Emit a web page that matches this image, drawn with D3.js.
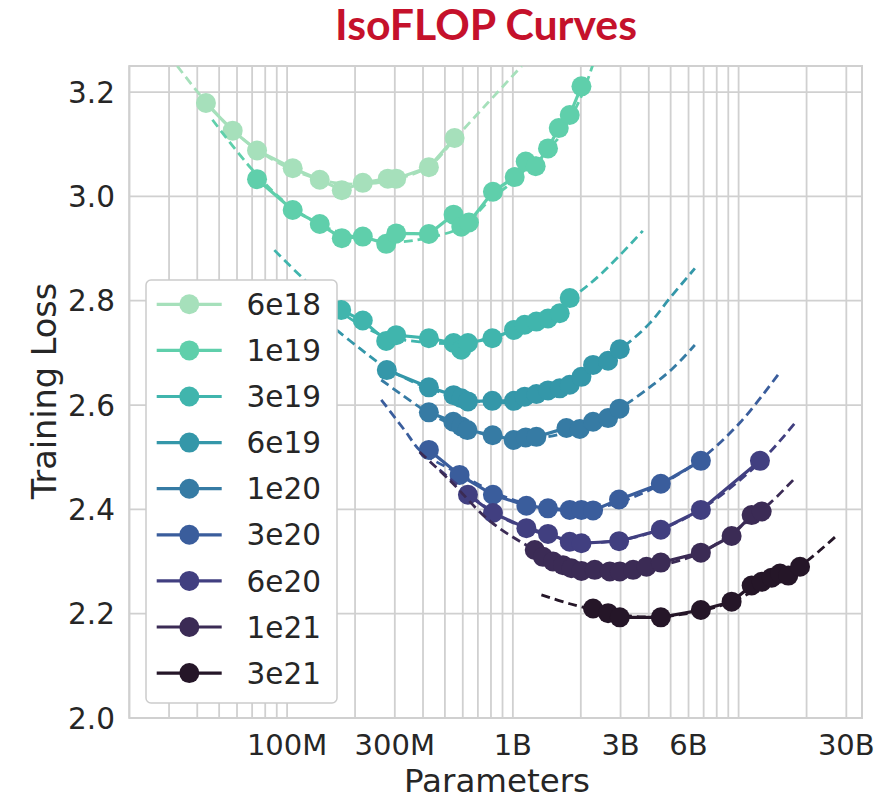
<!DOCTYPE html>
<html><head><meta charset="utf-8">
<script src="https://cdn.jsdelivr.net/npm/d3@7"></script>
<style>body{margin:0;background:#fff}</style>
</head><body>
<svg id="chart" width="889" height="801"></svg>
<script>
// ---------- DATA ----------
const budgets = ["6e18","1e19","3e19","6e19","1e20","3e20","6e20","1e21","3e21"];
const palette = ["#a6e0bb","#5fcfab","#40b5ad","#3497a9","#367ba4","#3a5d9c","#413f80","#3b2b55","#251628"];
const xTickValues = [1e8, 3e8, 1e9, 3e9, 6e9, 3e10];
const xTickLabels = ["100M","300M","1B","3B","6B","30B"];
const yTickValues = [2.0, 2.2, 2.4, 2.6, 2.8, 3.0, 3.2];
const yTickLabels = ["2.0","2.2","2.4","2.6","2.8","3.0","3.2"];

// measured runs: [parameters, training loss]
const s6e18 = [[43.7e6,3.179],[57.4e6,3.126],[73.6e6,3.088],[105.9e6,3.054],[139.5e6,3.032],[174.7e6,3.012],[216.4e6,3.026],[279.3e6,3.034],[304.3e6,3.034],[424.6e6,3.056],[552e6,3.112]];
const s1e19 = [[73.6e6,3.033],[105.9e6,2.974],[139.5e6,2.947],[174.7e6,2.920],[216.4e6,2.923],[274.8e6,2.909],[304.3e6,2.929],[424.6e6,2.928],[546.4e6,2.965],[590.9e6,2.942],[638.9e6,2.950],[816.3e6,3.009],[1019e6,3.037],[1140e6,3.067],[1262e6,3.058],[1431e6,3.092],[1597e6,3.131],[1786e6,3.156],[2013e6,3.211]];
const s3e19 = [[173.6e6,2.782],[216.4e6,2.762],[274.8e6,2.723],[304.3e6,2.734],[424.6e6,2.728],[546.4e6,2.719],[590.9e6,2.706],[632.4e6,2.719],[811.2e6,2.728],[1011e6,2.744],[1128e6,2.754],[1271e6,2.760],[1431e6,2.766],[1613e6,2.776],[1786e6,2.805]];
const s6e19 = [[276.5e6,2.667],[424.6e6,2.634],[546.4e6,2.619],[590.9e6,2.613],[632.4e6,2.607],[811.2e6,2.608],[1011e6,2.608],[1128e6,2.616],[1271e6,2.621],[1431e6,2.628],[1613e6,2.632],[1786e6,2.639],[2013e6,2.654],[2266e6,2.677],[2641e6,2.685],[2976e6,2.707]];
const s1e20 = [[424.6e6,2.586],[544.6e6,2.568],[590.9e6,2.559],[629.1e6,2.552],[813.7e6,2.542],[1008e6,2.533],[1140e6,2.538],[1271e6,2.539],[1727e6,2.556],[1978e6,2.554],[2266e6,2.568],[2641e6,2.575],[2967e6,2.593]];
const s3e20 = [[424.6e6,2.514],[580.8e6,2.466],[816.3e6,2.428],[1148e6,2.407],[1431e6,2.402],[1786e6,2.399],[2013e6,2.399],[2266e6,2.398],[2954e6,2.419],[4523e6,2.449],[6805e6,2.493]];
const s6e20 = [[632.4e6,2.428],[816.3e6,2.393],[1148e6,2.364],[1431e6,2.353],[1786e6,2.338],[2013e6,2.335],[2954e6,2.339],[4523e6,2.361],[6805e6,2.399],[12430e6,2.493]];
const s1e21 = [[1250e6,2.322],[1360e6,2.309],[1506e6,2.300],[1668e6,2.293],[1817e6,2.287],[2013e6,2.282],[2305e6,2.284],[2687e6,2.281],[2976e6,2.281],[3409e6,2.284],[3908e6,2.290],[4523e6,2.298],[6805e6,2.317],[9311e6,2.349],[11420e6,2.389],[12650e6,2.396]];
const s3e21 = [[2266e6,2.210],[2641e6,2.201],[2976e6,2.193],[4523e6,2.193],[6805e6,2.207],[9311e6,2.223],[11420e6,2.254],[12650e6,2.261],[14010e6,2.269],[15250e6,2.277],[16600e6,2.273],[18710e6,2.290]];

// dashed fitted curves
const f6e18 = [[32.6e6,3.250],[43.7e6,3.181],[57.2e6,3.128],[73.8e6,3.089],[105.6e6,3.051],[154e6,3.028],[220.2e6,3.024],[314.8e6,3.035],[427.6e6,3.058],[552e6,3.110],[773e6,3.179],[1094e6,3.250]];
const f1e19 = [[46.7e6,3.147],[70.2e6,3.051],[102.4e6,2.982],[154e6,2.938],[231.7e6,2.917],[314.8e6,2.913],[414.7e6,2.920],[598.9e6,2.942],[789.3e6,2.993],[998e6,3.028],[1315e6,3.080],[1564e6,3.108],[1978e6,3.185],[2259e6,3.252]];
const f3e19 = [[87.8e6,2.897],[116.9e6,2.844],[170.6e6,2.780],[256.7e6,2.736],[386.2e6,2.721],[580.8e6,2.719],[874e6,2.733],[1315e6,2.763],[1978e6,2.817],[2426e6,2.849],[2976e6,2.887],[3763e6,2.934]];
const f6e19 = [[165.4e6,2.744],[209.2e6,2.709],[275.7e6,2.671],[386.2e6,2.639],[580.8e6,2.614],[874e6,2.604],[1315e6,2.617],[1978e6,2.652],[2976e6,2.706],[4044e6,2.757],[4958e6,2.805],[6400e6,2.862]];
const f1e20 = [[261.2e6,2.648],[314.8e6,2.623],[423.3e6,2.585],[580.8e6,2.558],[874e6,2.539],[1315e6,2.537],[1978e6,2.556],[2976e6,2.594],[4181e6,2.639],[5129e6,2.671],[6400e6,2.715]];
const f3e20 = [[261.2e6,2.610],[331.2e6,2.552],[394e6,2.510],[580.8e6,2.468],[874e6,2.428],[1315e6,2.405],[1978e6,2.397],[2976e6,2.414],[4477e6,2.447],[6736e6,2.495],[10130e6,2.566],[14940e6,2.658]];
const f6e20 = [[473.6e6,2.476],[630.4e6,2.431],[874e6,2.387],[1315e6,2.355],[1978e6,2.337],[2976e6,2.341],[4477e6,2.361],[6736e6,2.399],[10130e6,2.456],[13770e6,2.510],[17960e6,2.568]];
const f1e21 = [[386.2e6,2.510],[524.5e6,2.456],[789.1e6,2.378],[1187e6,2.328],[1786e6,2.291],[2687e6,2.278],[4044e6,2.288],[6736e6,2.316],[10130e6,2.366],[13770e6,2.412],[17960e6,2.462]];
const f3e21 = [[1338e6,2.236],[1786e6,2.219],[2426e6,2.205],[3650e6,2.194],[5492e6,2.198],[8263e6,2.215],[12430e6,2.249],[18710e6,2.291],[26740e6,2.347]];

const runs = [s6e18,s1e19,s3e19,s6e19,s1e20,s3e20,s6e20,s1e21,s3e21];
const fits = [f6e18,f1e19,f3e19,f6e19,f1e20,f3e20,f6e20,f1e21,f3e21];

// ---------- CHART ----------
const FONT = "'DejaVu Sans', 'Liberation Sans', sans-serif";
const svg = d3.select("#chart");
const m = {l:129.3, r:862, t:66, b:718};
const x = d3.scaleLog().domain([2e7, 3.52e10]).range([m.l, m.r]);
const y = d3.scaleLinear().domain([2.0, 3.25]).range([m.b, m.t]);
const gridColor = "#d0d0d0";

svg.append("rect").attr("width",889).attr("height",801).attr("fill","#fff");

// grid
const g = svg.append("g");
const xGrid = x.ticks().filter(v => v >= 2e7 && v <= 3.52e10);
g.selectAll("line.xg").data(xGrid).join("line")
  .attr("x1", d=>x(d)).attr("x2", d=>x(d)).attr("y1", m.t).attr("y2", m.b)
  .attr("stroke", gridColor).attr("stroke-width", 1.8);
g.selectAll("line.yg").data(yTickValues).join("line")
  .attr("x1", m.l).attr("x2", m.r).attr("y1", d=>y(d)).attr("y2", d=>y(d))
  .attr("stroke", gridColor).attr("stroke-width", 1.8);
g.append("rect").attr("x", m.l).attr("y", m.t).attr("width", m.r-m.l).attr("height", m.b-m.t)
  .attr("fill","none").attr("stroke", gridColor).attr("stroke-width", 2);

// tick labels
svg.append("g").selectAll("text").data(xTickValues).join("text")
  .attr("x", d=>x(d)).attr("y", 755).attr("text-anchor","middle")
  .attr("font-family", FONT).attr("font-size", 29).attr("fill","#262626")
  .text((d,i)=>xTickLabels[i]);
svg.append("g").selectAll("text").data(yTickValues).join("text")
  .attr("x", 115).attr("y", d=>y(d)).attr("dy","0.36em").attr("text-anchor","end")
  .attr("font-family", FONT).attr("font-size", 29.5).attr("fill","#262626")
  .text((d,i)=>yTickLabels[i]);

// axis titles
svg.append("text").attr("x", 497).attr("y", 792).attr("text-anchor","middle")
  .attr("font-family", FONT).attr("font-size", 32.5).attr("fill","#262626").text("Parameters");
svg.append("text").attr("transform","translate(56,391) rotate(-90)").attr("text-anchor","middle")
  .attr("font-family", FONT).attr("font-size", 33.5).attr("fill","#262626").text("Training Loss");

// title
svg.append("text").attr("x", 486).attr("y", 40).attr("text-anchor","middle")
  .attr("font-family","Lato, 'Open Sans', sans-serif").attr("font-weight","bold")
  .attr("font-size", 42).attr("fill","#c5112b")
  .attr("textLength", 302).attr("lengthAdjust","spacingAndGlyphs")
  .text("IsoFLOP Curves");

// clip
svg.append("clipPath").attr("id","plotclip").append("rect")
  .attr("x", m.l).attr("y", m.t).attr("width", m.r-m.l).attr("height", m.b-m.t);
const plot = svg.append("g").attr("clip-path","url(#plotclip)");

const fitLine = d3.line().x(d=>x(d[0])).y(d=>y(d[1])).curve(d3.curveCatmullRom.alpha(0.5));
const runLine = d3.line().x(d=>x(d[0])).y(d=>y(d[1]));

runs.forEach((run, i) => {
  const sg = plot.append("g");
  sg.append("path").attr("d", fitLine(fits[i])).attr("fill","none")
    .attr("stroke", palette[i]).attr("stroke-width", 2.8).attr("stroke-dasharray","9,5");
  sg.append("path").attr("d", runLine(run)).attr("fill","none")
    .attr("stroke", palette[i]).attr("stroke-width", 3.2);
  sg.selectAll("circle").data(run).join("circle")
    .attr("cx", d=>x(d[0])).attr("cy", d=>y(d[1])).attr("r", 10)
    .attr("fill", palette[i]);
});

// legend
const lg = svg.append("g");
lg.append("rect").attr("x",146).attr("y",280).attr("width",191).attr("height",423)
  .attr("rx",5).attr("fill","#fff").attr("fill-opacity",1).attr("stroke","#cccccc").attr("stroke-width",1.5);
budgets.forEach((b,i) => {
  const cy = 304.3 + i*46.1;
  lg.append("line").attr("x1",156.7).attr("x2",221.7).attr("y1",cy).attr("y2",cy)
    .attr("stroke", palette[i]).attr("stroke-width",3.2);
  lg.append("circle").attr("cx",189.3).attr("cy",cy).attr("r",10).attr("fill",palette[i]);
  lg.append("text").attr("x",246.5).attr("y",cy).attr("dy","0.36em")
    .attr("font-family",FONT).attr("font-size",29.5).attr("fill","#262626").text(b);
});
</script>
</body></html>
